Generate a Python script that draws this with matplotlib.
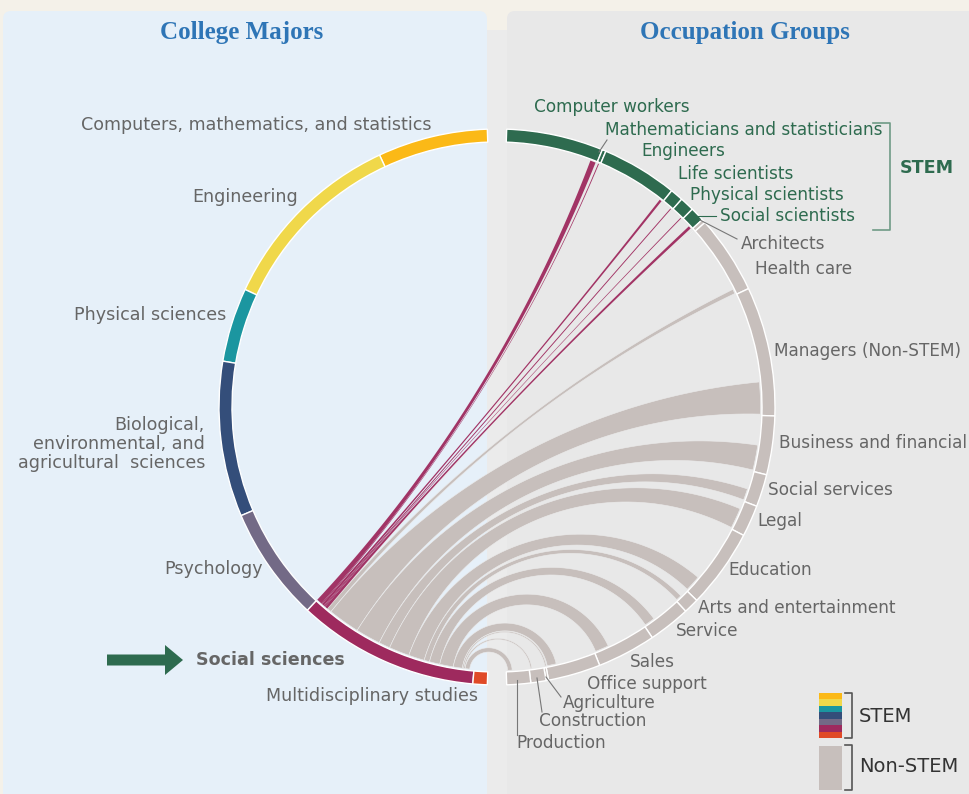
import numpy as np
import matplotlib.pyplot as plt
from matplotlib.path import Path
from matplotlib.patches import Wedge, PathPatch, Rectangle, FancyArrow, FancyBboxPatch

majors = ["Computers, mathematics, and statistics", "Engineering", "Physical sciences",
          "Biological,\nenvironmental, and\nagricultural  sciences", "Psychology",
          "Social sciences", "Multidisciplinary studies"]
major_size = [23, 40, 15.5, 32.5, 24, 38, 3]
major_colors = ["#fbb917", "#f0d84a", "#1b96a0", "#344e7a", "#736a86", "#9e2a5e", "#e04a27"]

occupations = ["Computer workers", "Mathematicians and statisticians", "Engineers",
               "Life scientists", "Physical scientists", "Social scientists", "Architects",
               "Health care", "Managers (Non-STEM)", "Business and financial", "Social services",
               "Legal", "Education", "Arts and entertainment", "Service", "Sales",
               "Office support", "Agriculture", "Construction", "Production"]
occ_size = [20.3, 0.8, 15.9, 2.7, 3.0, 3.0, 0.8, 16.4, 27.1, 12.3, 6.8, 6.6, 16.6, 3.2,
            8.8, 12.3, 11.0, 0.5, 3.2, 5.0]
occ_stem = [True] * 6 + [False] * 14

# social sciences majors -> occupation
social_flow = [1.2, 0.2, 0.5, 0.2, 0.2, 0.6, 0.05, 1.0, 7.0, 5.5, 2.5, 4.5, 3.5, 1.2,
               2.3, 3.0, 2.0, 0.3, 0.3, 1.0]
focus = 5  # Social sciences

# ---- layout ----
cx, cy = 497, 407
r_out, ring_w = 278, 13
r_rib = r_out - ring_w - 1.5
pad = 2.0
span = 176.0
GREEN = "#2e6b4f"
GRAY = "#c7bfbc"
TXT = "#666666"

fig = plt.figure(figsize=(9.69, 7.94), dpi=100)
fig.patch.set_facecolor("#f4f1e9")
ax = fig.add_axes([0, 0, 1, 1])
ax.set_xlim(0, 969)
ax.set_ylim(794, 0)
ax.axis("off")

ax.add_patch(Rectangle((487, 30), 20, 770, fc="#ebebeb", ec="none"))
ax.add_patch(FancyBboxPatch((3, 11), 484, 800, boxstyle="round,pad=0,rounding_size=8",
                            fc="#e6f0f9", ec="none"))
ax.add_patch(FancyBboxPatch((507, 11), 480, 800, boxstyle="round,pad=0,rounding_size=8",
                            fc="#e8e8e8", ec="none"))


def pt(theta, r):
    t = np.radians(theta)
    return np.array([cx + r * np.sin(t), cy - r * np.cos(t)])


def arc(t0, t1, r, n=40):
    t = np.radians(np.linspace(t0, t1, n))
    return np.column_stack([cx + r * np.sin(t), cy - r * np.cos(t)])


def edge(ta, tb, r, n=60):
    # arc orthogonal to the ring between two rim angles
    d = (tb - ta + 180) % 360 - 180
    pa, pb = pt(ta, r), pt(tb, r)
    if abs(d) > 178.5:
        s = np.linspace(0, 1, n)[:, None]
        return pa + (pb - pa) * s
    tm = ta + d / 2
    half = np.radians(abs(d) / 2)
    c = pt(tm, r / np.cos(half))
    rho = r * np.tan(half)
    ga = np.arctan2(pa[1] - c[1], pa[0] - c[0])
    gb = np.arctan2(pb[1] - c[1], pb[0] - c[0])
    dg = (gb - ga + np.pi) % (2 * np.pi) - np.pi
    g = ga + dg * np.linspace(0, 1, n)
    return np.column_stack([c[0] + rho * np.cos(g), c[1] + rho * np.sin(g)])


scale_l = span / sum(major_size)
scale_r = span / sum(occ_size)

# majors on the left (counter-clockwise from top)
a = pad
major_start = []
for size, col in zip(major_size, major_colors):
    a1 = a + size * scale_l
    major_start.append(a)
    ax.add_patch(Wedge((cx, cy), r_out, 270 - a1, 270 - a, width=ring_w,
                       fc=col, ec="white", lw=1.0))
    a = a1

# occupations on the right (clockwise from top)
t = pad
occ_end = []
for size, stem in zip(occ_size, occ_stem):
    t1 = t + size * scale_r
    occ_end.append(t1)
    ax.add_patch(Wedge((cx, cy), r_out, t - 90, t1 - 90, width=ring_w,
                       fc=GREEN if stem else GRAY, ec="white", lw=1.0))
    t = t1

# ribbons from social sciences
a0 = major_start[focus]
ribbons = []
for k, f in enumerate(social_flow):
    w = f * scale_l
    ts0, ts1 = 360 - (a0 + w), 360 - a0
    tt1 = occ_end[k] - 0.3
    tt0 = tt1 - w
    verts = np.vstack([arc(ts0, ts1, r_rib), edge(ts1, tt0, r_rib),
                       arc(tt0, tt1, r_rib), edge(tt1, ts0, r_rib)])
    ribbons.append((occ_stem[k], Path(verts, closed=True)))
    a0 += w

for stem, p in ribbons:
    if not stem:
        ax.add_patch(PathPatch(p, fc=GRAY, ec="#ececec", lw=0.4, zorder=2))
for stem, p in ribbons:
    if stem:
        ax.add_patch(PathPatch(p, fc="#9e2a5e", ec="none", lw=0, alpha=0.95, zorder=3))

# ---- labels ----
fs_l, fs_r = 12.6, 12.15
left_pos = [(432, 125), (298, 197), (226, 315), (205, 444), (263, 569), None, (478, 696)]
for name, pos in zip(majors, left_pos):
    if pos is None:
        continue
    ax.text(pos[0], pos[1], name, ha="right", va="center", fontsize=fs_l, color=TXT,
            linespacing=1.05)
ax.text(196, 660, majors[focus], ha="left", va="center", fontsize=fs_l, color=TXT,
        fontweight="bold")
ax.add_patch(FancyArrow(107, 660, 76, 0, width=11, head_width=30, head_length=18,
                        length_includes_head=True, fc=GREEN, ec="none"))

right_pos = [(534, 107), (605, 130), (641, 151), (678, 174), (690, 195), (720, 216),
             (741, 244), (755, 269), (774, 351), (779, 443), (768, 490), (757, 521),
             (728, 570), (698, 608), (676, 631), (630, 662), (587, 684), (563, 703),
             (539, 721), (516, 743)]
for name, pos, stem in zip(occupations, right_pos, occ_stem):
    ax.text(pos[0], pos[1], name, ha="left", va="center", fontsize=fs_r,
            color=GREEN if stem else TXT)

# leader lines
lc = "#777777"
ax.plot([599, 607], [152, 140], color=lc, lw=0.8)
ax.plot([698, 716], [216, 216], color=GREEN, lw=0.8)
ax.plot([700, 737], [220, 239], color=lc, lw=0.8)
ax.plot([546, 561], [677, 697], color=lc, lw=0.8)
ax.plot([537, 542], [678, 712], color=lc, lw=0.8)
ax.plot([517, 517], [680, 735], color=lc, lw=0.8)

# STEM bracket
ax.plot([873, 890, 890, 873], [123, 123, 230, 230], color="#6f9a86", lw=1.2)
ax.text(900, 168, "STEM", ha="left", va="center", fontsize=fs_l, color=GREEN,
        fontweight="bold")

# titles
for txt, x in [("College Majors", 242), ("Occupation Groups", 745)]:
    ax.text(x, 33, txt, ha="center", va="center", fontsize=18, color="#2e75b6",
            fontweight="bold", family="Liberation Serif")

# legend
h = 45 / len(major_colors)
for i, col in enumerate(major_colors):
    ax.add_patch(Rectangle((819, 693 + i * h), 23, h, fc=col, ec="none"))
ax.add_patch(Rectangle((819, 746), 23, 44, fc=GRAY, ec="none"))
ax.plot([845, 852, 852, 845], [693, 693, 738, 738], color="#555555", lw=1.2)
ax.plot([845, 852, 852, 845], [745, 745, 790, 790], color="#555555", lw=1.2)
ax.text(859, 716, "STEM", ha="left", va="center", fontsize=14, color="#333333")
ax.text(859, 767, "Non-STEM", ha="left", va="center", fontsize=14, color="#333333")

fig.savefig("out.png", dpi=100, facecolor=fig.get_facecolor())
